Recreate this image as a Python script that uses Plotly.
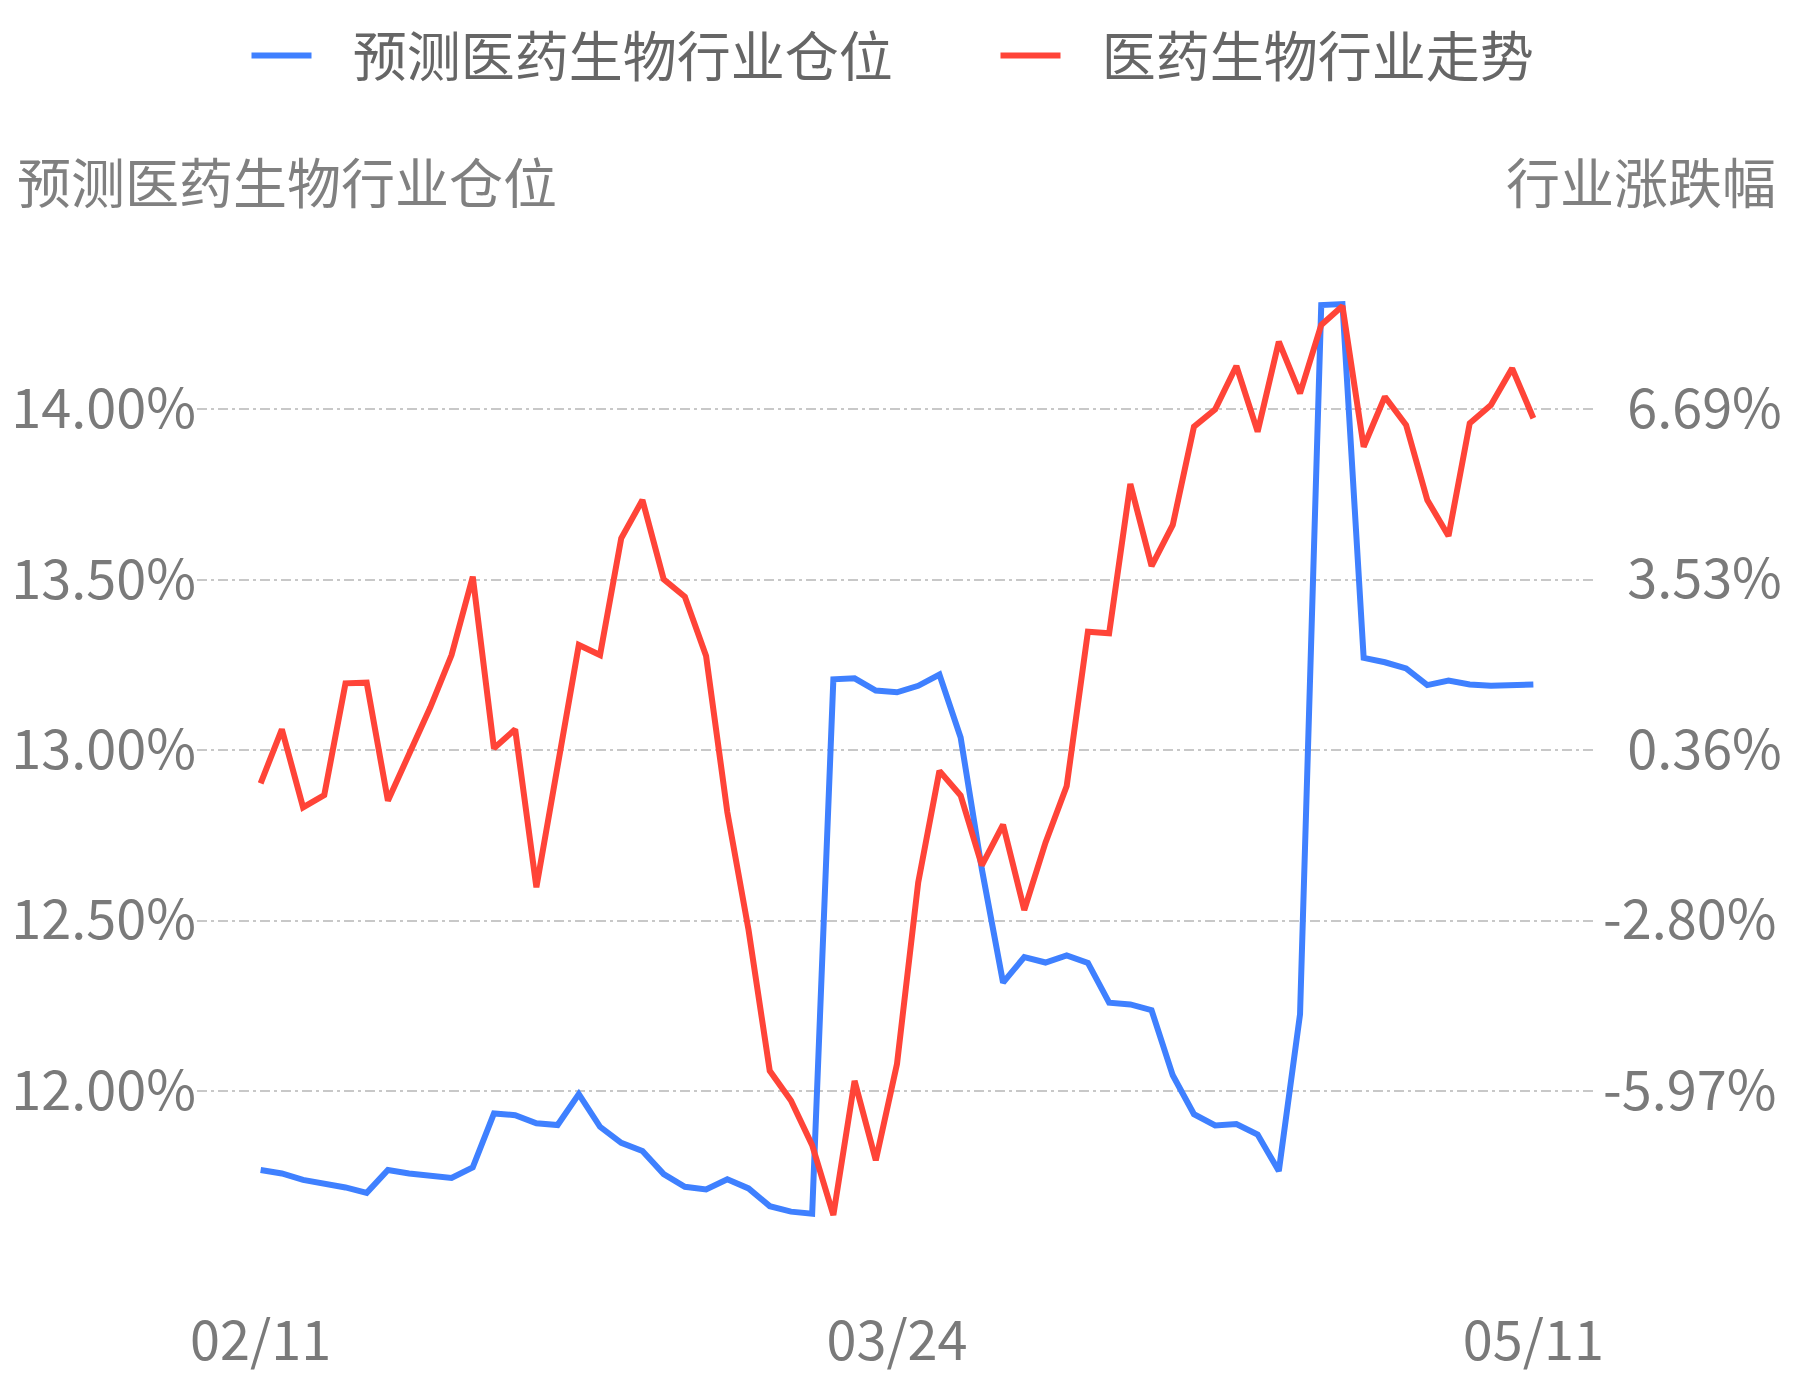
import plotly.graph_objects as go

# trading-day index, with date labels only where the axis shows them
x_idx = list(range(61))
x_tick_pos = [0, 30, 60]
x_tick_text = ["02/11", "03/24", "05/11"]

# 预测医药生物行业仓位 (%), left axis
position = [
    11.768, 11.758, 11.739, 11.729, 11.717, 11.701, 11.768, 11.758, 11.753, 11.745,
    11.776, 11.934, 11.929, 11.905, 11.900, 11.991, 11.895, 11.848, 11.824, 11.756,
    11.719, 11.711, 11.741, 11.714, 11.662, 11.646, 11.640, 13.208, 13.211, 13.175,
    13.170, 13.189, 13.222, 13.037, 12.651, 12.318, 12.393, 12.377, 12.398, 12.376,
    12.259, 12.254, 12.237, 12.046, 11.932, 11.899, 11.903, 11.872, 11.765, 12.225,
    14.306, 14.309, 13.271, 13.258, 13.240, 13.191, 13.204, 13.193, 13.189, 13.191,
    13.193,
]

# 医药生物行业走势 (%), right axis
trend = [
    -0.255, 0.748, -0.701, -0.472, 1.602, 1.614, -0.578, 0.302, 1.157, 2.128,
    3.583, 0.395, 0.748, -2.187, 0.054, 2.314, 2.128, 4.296, 5.007, 3.534,
    3.211, 2.110, -0.787, -2.974, -5.595, -6.148, -6.977, -8.275, -5.782, -7.257,
    -5.467, -2.096, -0.024, -0.481, -1.780, -1.022, -2.608, -1.358, -0.305, 2.561,
    2.531, 5.304, 3.781, 4.543, 6.369, 6.692, 7.496, 6.276, 7.948, 6.989,
    8.258, 8.611, 5.997, 6.926, 6.400, 5.007, 4.339, 6.432, 6.772, 7.453,
    6.525,
]

left_ticks = [12.0, 12.5, 13.0, 13.5, 14.0]
right_ticks = [-5.97, -2.80, 0.36, 3.53, 6.69]

FONT = "Noto Sans CJK SC, Noto Sans, sans-serif"
BLUE = "#3f80ff"
RED = "#ff4438"
GRID = "#c8c8c8"
NB = "\u00a0"

W, H = 1777, 1372          # page body has an 8px margin
L, R, T, B = 189, 188, 231, 75
PW, PH = W - L - R, H - T - B

fig = go.Figure()
fig.add_trace(go.Scatter(x=x_idx, y=position, mode="lines", name=NB * 3 + "预测医药生物行业仓位",
                         legendwidth=674, line=dict(color=BLUE, width=6)))
fig.add_trace(go.Scatter(x=x_idx, y=trend, mode="lines", name=NB * 3 + "医药生物行业走势",
                         yaxis="y2", line=dict(color=RED, width=6)))

# right labels are right-aligned in the original: pad the ones without a minus sign
right_text = [f"{v:.2f}%" if v < 0 else NB * 2 + f"{v:.2f}%" for v in right_ticks]

fig.update_layout(
    width=W, height=H,
    margin=dict(l=L, r=R, t=T, b=B, autoexpand=False),
    paper_bgcolor="white", plot_bgcolor="white",
    font=dict(family=FONT, size=54, color="#7a7a7a"),
    showlegend=True,
    legend=dict(orientation="h", x=(238.5 - L) / PW, xanchor="left",
                y=1 + (T - 48) / PH, yanchor="middle",
                itemwidth=60, font=dict(size=54, color="#666666"),
                bgcolor="rgba(0,0,0,0)"),
    xaxis=dict(range=[-3, 63], tickvals=x_tick_pos, ticktext=x_tick_text,
               showgrid=False, zeroline=False, showline=False, ticks=""),
    yaxis=dict(range=[11.372, 14.5], tickvals=left_ticks,
               ticktext=[f"{v:.2f}%" for v in left_ticks],
               showgrid=True, gridcolor=GRID, gridwidth=2, griddash="10px,4px,3px,4px",
               zeroline=False, showline=False, ticks=""),
    yaxis2=dict(range=[-9.945, 9.855], tickvals=right_ticks, ticktext=right_text,
                overlaying="y", side="right", showgrid=False, ticklabelstandoff=5,
                zeroline=False, showline=False, ticks=""),
)

title_y = 1 + (T - 172) / PH
fig.add_annotation(text="预测医药生物行业仓位", xref="paper", yref="paper",
                   x=(7 - L) / PW, y=title_y, xanchor="left", yanchor="middle",
                   showarrow=False, font=dict(size=54, color="#808080"))
fig.add_annotation(text="行业涨跌幅", xref="paper", yref="paper",
                   x=(1770 - L) / PW, y=title_y, xanchor="right", yanchor="middle",
                   showarrow=False, font=dict(size=54, color="#808080"))

fig.write_html("out.html")
